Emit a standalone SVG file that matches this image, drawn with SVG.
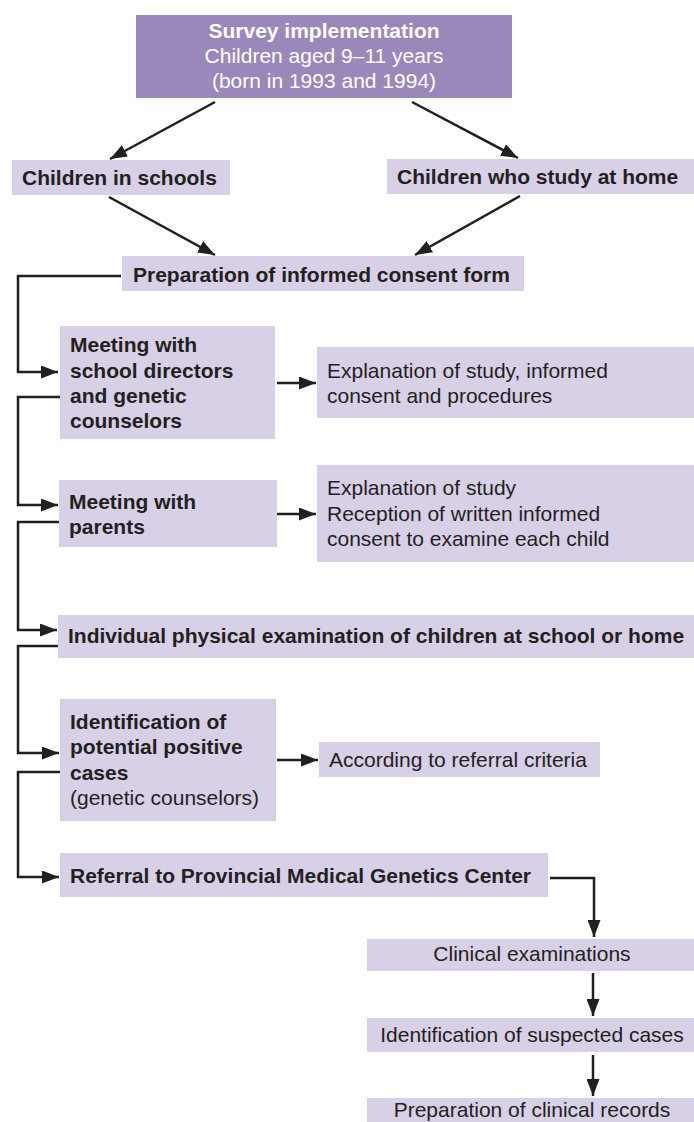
<svg xmlns="http://www.w3.org/2000/svg" width="694" height="1122" viewBox="0 0 694 1122">
<style>
.box{fill:#d8d0e6}
.top{fill:#9b88bb}
text{font-family:"Liberation Sans",Arial,sans-serif;font-size:21px;fill:#231f20}
.b{font-weight:bold}
.w{fill:#ffffff}
.c{text-anchor:middle}
.ln{fill:none;stroke:#231f20;stroke-width:2.5}
</style>
<defs>
<marker id="ah" viewBox="0 0 17 13" refX="17" refY="6.5" markerWidth="17" markerHeight="13" markerUnits="userSpaceOnUse" orient="auto">
<path d="M0,0 L17,6.5 L0,13 z" fill="#231f20"/>
</marker>
</defs>
<rect width="694" height="1122" fill="#ffffff"/>
<g id="survey">
<rect class="top" x="136" y="15" width="376" height="83"/>
<text class="w b c" x="324" y="38">Survey implementation</text>
<text class="w c" x="324" y="63">Children aged 9–11 years</text>
<text class="w c" x="324" y="88">(born in 1993 and 1994)</text>
</g>
<g id="schools">
<rect class="box" x="12" y="160" width="218" height="35"/>
<text class="b" x="22" y="185">Children in schools</text>
</g>
<g id="home">
<rect class="box" x="387" y="159" width="307" height="35"/>
<text class="b" x="397" y="184">Children who study at home</text>
</g>
<g id="consent">
<rect class="box" x="122" y="256" width="402" height="35"/>
<text class="b" x="133" y="282">Preparation of informed consent form</text>
</g>
<g id="directors">
<rect class="box" x="60" y="326" width="215" height="113"/>
<text class="b" x="70" y="352">Meeting with</text>
<text class="b" x="70" y="378">school directors</text>
<text class="b" x="70" y="403">and genetic</text>
<text class="b" x="70" y="428">counselors</text>
</g>
<g id="explain1">
<rect class="box" x="317" y="347" width="377" height="71"/>
<text x="327" y="378">Explanation of study, informed</text>
<text x="327" y="403">consent and procedures</text>
</g>
<g id="parents">
<rect class="box" x="59" y="480" width="218" height="67"/>
<text class="b" x="69" y="509">Meeting with</text>
<text class="b" x="69" y="534">parents</text>
</g>
<g id="explain2">
<rect class="box" x="317" y="465" width="377" height="97"/>
<text x="327" y="495">Explanation of study</text>
<text x="327" y="521">Reception of written informed</text>
<text x="327" y="546">consent to examine each child</text>
</g>
<g id="exam">
<rect class="box" x="58" y="615" width="636" height="43"/>
<text class="b" x="68" y="643">Individual physical examination of children at school or home</text>
</g>
<g id="identify">
<rect class="box" x="60" y="699" width="216" height="122"/>
<text class="b" x="70" y="729">Identification of</text>
<text class="b" x="70" y="754">potential positive</text>
<text class="b" x="70" y="780">cases</text>
<text x="70" y="805">(genetic counselors)</text>
</g>
<g id="criteria">
<rect class="box" x="319" y="742" width="281" height="35"/>
<text x="329" y="767">According to referral criteria</text>
</g>
<g id="referral">
<rect class="box" x="60" y="853" width="488" height="44"/>
<text class="b" x="70" y="883">Referral to Provincial Medical Genetics Center</text>
</g>
<g id="clinical">
<rect class="box" x="367" y="939" width="327" height="32"/>
<text class="c" x="532" y="961">Clinical examinations</text>
</g>
<g id="suspected">
<rect class="box" x="367" y="1018" width="327" height="34"/>
<text class="c" x="532" y="1042">Identification of suspected cases</text>
</g>
<g id="records">
<rect class="box" x="367" y="1098" width="327" height="24"/>
<text class="c" x="532" y="1117">Preparation of clinical records</text>
</g>
<g id="connectors">
<path class="ln" d="M215,102 L110,159" marker-end="url(#ah)"/>
<path class="ln" d="M412,102 L518,158" marker-end="url(#ah)"/>
<path class="ln" d="M109,197 L215,255" marker-end="url(#ah)"/>
<path class="ln" d="M520,196 L415,255" marker-end="url(#ah)"/>
<path class="ln" d="M121,276 H18 V372 H58" marker-end="url(#ah)"/>
<path class="ln" d="M277,383 H316" marker-end="url(#ah)"/>
<path class="ln" d="M60,397 H18 V505 H58" marker-end="url(#ah)"/>
<path class="ln" d="M277,514 H316" marker-end="url(#ah)"/>
<path class="ln" d="M59,522 H18 V630 H57" marker-end="url(#ah)"/>
<path class="ln" d="M58,646 H18 V753 H59" marker-end="url(#ah)"/>
<path class="ln" d="M277,760 H318" marker-end="url(#ah)"/>
<path class="ln" d="M60,772 H18 V877 H59" marker-end="url(#ah)"/>
<path class="ln" d="M550,878 H594 V937" marker-end="url(#ah)"/>
<path class="ln" d="M593,973 V1016" marker-end="url(#ah)"/>
<path class="ln" d="M593,1055 V1096" marker-end="url(#ah)"/>
</g>
</svg>
